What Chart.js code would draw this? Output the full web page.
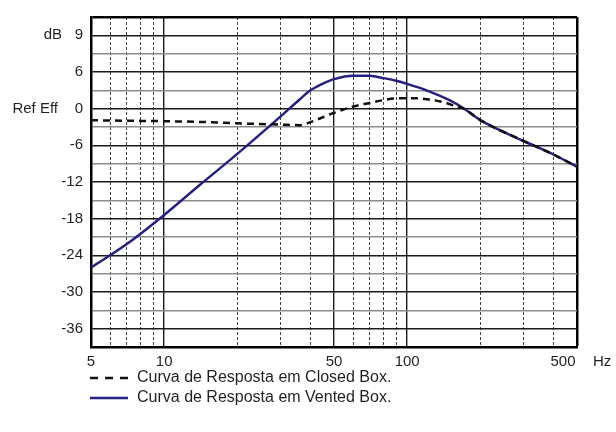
<!DOCTYPE html>
<html>
<head>
<meta charset="utf-8">
<script src="https://cdn.jsdelivr.net/npm/chart.js@4/dist/chart.umd.min.js"></script>
<style>
html, body { margin: 0; padding: 0; background: #fff; }
#wrap { width: 616px; height: 432px; }
</style>
</head>
<body>
<div id="wrap"><canvas id="grafica" width="616" height="432"></canvas></div>
<script>
// DATOS

const closedFreq = [5, 8, 10, 15, 20, 30, 36, 40, 45, 50, 60, 70, 80, 90, 100, 110, 120, 140, 160, 170, 200, 300, 400, 500];
const closedDb = [-1.9, -2.0, -2.05, -2.2, -2.4, -2.6, -2.7, -2.2, -1.4, -0.7, 0.35, 0.92, 1.4, 1.67, 1.7, 1.7, 1.55, 1.1, 0.35, 0.05, -1.87, -5.25, -7.5, -9.5];

const ventedFreq = [5, 7, 10, 14, 20, 30, 36, 40, 45, 50, 60, 70, 80, 90, 100, 120, 150, 170, 200, 300, 400, 500];
const ventedDb = [-26, -22.2, -17.4, -12.5, -7.4, -1.35, 1.45, 3.0, 4.1, 4.84, 5.4, 5.37, 5.0, 4.57, 4.05, 3.0, 1.35, 0.1, -1.87, -5.25, -7.5, -9.5];

const seriesNames = ['Curva de Resposta em Closed Box.', 'Curva de Resposta em Vented Box.'];

const xGridValues = [5, 6, 7, 8, 9, 10, 20, 30, 40, 50, 60, 70, 80, 90, 100, 200, 300, 400, 500];
const xSolidValues = [10, 50, 100];
const xLabelValues = [5, 10, 50, 100, 500];
const xLabels = ['5', '10', '50', '100', '500'];

const yLabelValues = [12, 6, 0, -6, -12, -18, -24, -30, -36];
const yLabels = ['9', '6', '0', '-6', '-12', '-18', '-24', '-30', '-36'];

const FONT = 'Liberation Sans, Arial, Helvetica, sans-serif';
const TEXT = '#231f20';

function pares(xs, ys){
  return xs.map((x, i) => ({x: x, y: ys[i]}));
}

// TEXTOS EXTRA Y LEYENDA

const extras = {
  id: 'extras',
  afterDraw(chart){
    const c = chart.ctx;
    const xs = chart.scales.x;
    const ys = chart.scales.y;
    c.save();
    c.fillStyle = TEXT;
    c.font = '15px ' + FONT;
    c.textBaseline = 'middle';

    // etiquetas eje x
    c.textAlign = 'center';
    const yLab = chart.chartArea.bottom + 15;
    xLabelValues.forEach((v, i) => {
      let px = xs.getPixelForValue(v);
      if (v === 500) px -= 14;
      c.fillText(xLabels[i], px, yLab);
    });
    c.textAlign = 'left';
    c.fillText('Hz', chart.chartArea.right + 16, yLab);

    c.textAlign = 'right';
    c.fillText('dB', 62, ys.getPixelForValue(12));
    c.fillText('Ref Eff', 58, ys.getPixelForValue(0));

    // leyenda
    c.font = '16px ' + FONT;
    c.textAlign = 'left';
    chart.data.datasets.forEach((ds, i) => {
      const yy = 378 + i * 20;
      c.strokeStyle = ds.borderColor;
      c.lineWidth = 2.5;
      c.setLineDash(ds.borderDash ? [8, 7] : []);
      c.beginPath();
      c.moveTo(90, yy);
      c.lineTo(128, yy);
      c.stroke();
      c.setLineDash([]);
      c.fillText(ds.label, 137, yy);
    });
    c.restore();
  }
};

const ctx = document.getElementById('grafica');

new Chart(ctx, {
  type: 'line',
  data: {
    datasets: [{
      label: seriesNames[0],
      data: pares(closedFreq, closedDb),
      borderColor: '#111111',
      borderWidth: 2.5,
      borderDash: [7, 5],
      pointRadius: 0,
      cubicInterpolationMode: 'monotone',
      fill: false
    }, {
      label: seriesNames[1],
      data: pares(ventedFreq, ventedDb),
      borderColor: '#262080',
      borderWidth: 2.5,
      pointRadius: 0,
      cubicInterpolationMode: 'monotone',
      fill: false
    }]
  },
  options: {
    responsive: false,
    animation: false,
    layout: { padding: { top: 7, right: 39, left: 0, bottom: 0 } },
    plugins: {
      legend: { display: false },
      tooltip: { enabled: false }
    },
    scales: {
      x: {
        type: 'logarithmic',
        min: 5,
        max: 500,
        afterBuildTicks: s => { s.ticks = xGridValues.map(v => ({value: v})); },
        afterFit: s => { s.height = 85; },
        ticks: { display: false },
        grid: {
          drawTicks: false,
          color: c => {
            const v = c.tick && c.tick.value;
            if (v === 500) return '#000';
            return xSolidValues.includes(v) ? '#1a1a1a' : '#444';
          },
          lineWidth: c => {
            const v = c.tick && c.tick.value;
            if (v === 500) return 2.5;
            return xSolidValues.includes(v) ? 1.4 : 1;
          }
        },
        border: {
          color: '#000',
          width: 2.5,
          dash: c => {
            const v = c.tick && c.tick.value;
            if (v === undefined || v === 500 || v === 5 || xSolidValues.includes(v)) return [];
            return [3, 2];
          }
        }
      },
      y: {
        min: -39,
        max: 15,
        afterFit: s => { s.width = 91; },
        ticks: {
          stepSize: 3,
          autoSkip: false,
          padding: 8,
          color: TEXT,
          font: { family: FONT, size: 15 },
          callback: v => {
            const i = yLabelValues.indexOf(v);
            return i >= 0 ? yLabels[i] : '';
          }
        },
        grid: {
          drawTicks: false,
          color: c => {
            const v = c.tick && c.tick.value;
            if (v === 15) return '#000';
            return v % 6 === 0 ? '#1a1a1a' : '#8c8c8c';
          },
          lineWidth: c => {
            const v = c.tick && c.tick.value;
            return v === 15 ? 2.5 : 1.4;
          }
        },
        border: { color: '#000', width: 2.5 }
      }
    }
  },
  plugins: [extras]
});
</script>
</body>
</html>
